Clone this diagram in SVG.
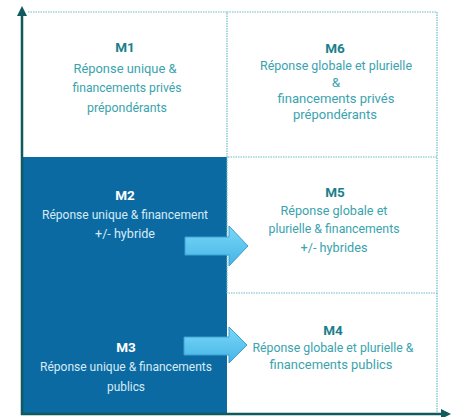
<svg xmlns="http://www.w3.org/2000/svg" width="459" height="417" viewBox="0 0 459 417">
<defs>
<style>
.t{font-family:"Roboto","Liberation Sans",sans-serif;font-size:13.5px;text-anchor:middle;fill:#3aa3ae}
.h{font-family:"Roboto","Liberation Sans",sans-serif;font-size:13.5px;font-weight:bold;text-anchor:middle;fill:#1b7f8b}
.tw{fill:#d6ebf6}
.hw{fill:#ffffff}
.dot{fill:none;stroke:#6cbcc7;stroke-width:1.2;stroke-dasharray:1.5 1}
.axis{stroke:#0f5a5c;stroke-width:2.5;fill:none}
.arr{fill:url(#ag);stroke:#3b9fd2;stroke-width:1}
</style>
<linearGradient id="ag" x1="0" y1="0" x2="0" y2="1">
<stop offset="0" stop-color="#7ad8f8"/>
<stop offset="1" stop-color="#45b4e6"/>
</linearGradient>
<marker id="ah" viewBox="0 0 10 10" refX="2" refY="5" markerWidth="4" markerHeight="4" orient="auto-start-reverse">
<path d="M0,0 L10,5 L0,10 z" fill="#0f5a5c"/>
</marker>
</defs>
<rect width="459" height="417" fill="#ffffff"/>
<g id="M1">
<path class="dot" d="M28,12 H227 V157"/>
<text class="h" x="125" y="52">M1</text>
<text class="t" x="125" y="73" textLength="103" lengthAdjust="spacingAndGlyphs">Réponse unique &amp;</text>
<text class="t" x="127" y="92" textLength="109" lengthAdjust="spacingAndGlyphs">financements privés</text>
<text class="t" x="127" y="112" textLength="80" lengthAdjust="spacingAndGlyphs">prépondérants</text>
</g>
<g id="M6">
<path class="dot" d="M227,12 H437 V157 H227"/>
<text class="h" x="335" y="53">M6</text>
<text class="t" x="336" y="70" textLength="152" lengthAdjust="spacingAndGlyphs">Réponse globale et plurielle</text>
<text class="t" x="336" y="87">&amp;</text>
<text class="t" x="336" y="103" textLength="117" lengthAdjust="spacingAndGlyphs">financements privés</text>
<text class="t" x="335" y="119" textLength="84" lengthAdjust="spacingAndGlyphs">prépondérants</text>
</g>
<rect id="blue" x="23" y="157" width="204" height="257" fill="#0c6aa3"/>
<g id="M2">
<text class="h hw" x="125" y="200">M2</text>
<text class="t tw" x="125" y="219" textLength="166" lengthAdjust="spacingAndGlyphs">Réponse unique &amp; financement</text>
<text class="t tw" x="125" y="238" textLength="60" lengthAdjust="spacingAndGlyphs">+/- hybride</text>
</g>
<g id="M3">
<text class="h hw" x="126" y="352">M3</text>
<text class="t tw" x="126" y="371" textLength="172" lengthAdjust="spacingAndGlyphs">Réponse unique &amp; financements</text>
<text class="t tw" x="126" y="391" textLength="38" lengthAdjust="spacingAndGlyphs">publics</text>
</g>
<g id="M5">
<path class="dot" d="M227,157 V293 H437 V157"/>
<text class="h" x="335" y="197">M5</text>
<text class="t" x="334" y="215" textLength="107" lengthAdjust="spacingAndGlyphs">Réponse globale et</text>
<text class="t" x="334" y="233" textLength="131" lengthAdjust="spacingAndGlyphs">plurielle &amp; financements</text>
<text class="t" x="334" y="252" textLength="67" lengthAdjust="spacingAndGlyphs">+/- hybrides</text>
</g>
<g id="M4">
<path class="dot" d="M437,293 V414"/>
<text class="h" x="333" y="335">M4</text>
<text class="t" x="333" y="352" textLength="161" lengthAdjust="spacingAndGlyphs">Réponse globale et plurielle &amp;</text>
<text class="t" x="331" y="369" textLength="123" lengthAdjust="spacingAndGlyphs">financements publics</text>
</g>
<g id="connectors">
<line class="axis" x1="22" y1="415" x2="22" y2="14" marker-end="url(#ah)"/>
<line class="axis" x1="21" y1="414" x2="443" y2="414" marker-end="url(#ah)"/>
<polygon class="arr" points="185,237 229,237 229,226 248,246 229,266 229,255 185,255"/>
<polygon class="arr" points="184,337 229,337 229,327 247,345 229,363 229,355 184,355"/>
</g>
</svg>
